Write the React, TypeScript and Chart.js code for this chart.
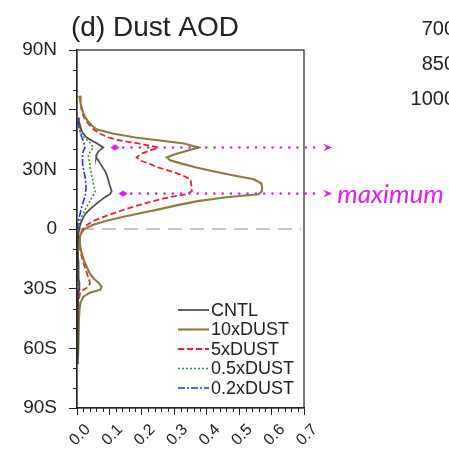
import { useEffect, useRef } from "react";
import { Chart, registerables } from "chart.js";

Chart.register(...registerables);

// Zonal-mean dust AOD profiles by latitude
const latitudes = [
  67, 64, 61, 58, 56, 54, 52, 50, 48, 46, 44.5, 43, 41, 39, 37.5, 36, 34.5, 33, 31, 29,
  27, 25, 23, 21, 19, 17.5, 16, 14, 12, 10, 8, 6, 4, 2, 0, -2, -4, -7, -10, -13,
  -16, -19, -22, -25, -27, -29, -30.5, -32, -34, -37, -40, -45, -50, -55, -60, -64, -68,
];

const cntl = [
  null, null, null, null, 0.004, 0.006, 0.010, 0.013, 0.019, 0.030, 0.045, 0.062, 0.081, 0.066, 0.061, 0.059, 0.066, 0.071, 0.079, 0.087,
  0.092, 0.096, 0.099, 0.103, 0.107, 0.102, 0.086, 0.070, 0.055, 0.040, 0.028, 0.020, 0.014, 0.010, 0.007, 0.005, 0.004, 0.003, 0.003, 0.003,
  0.004, 0.004, 0.005, 0.006, 0.007, 0.008, 0.007, 0.005, 0.004, 0.003, 0.003, 0.003, 0.003, 0.003, 0.003, 0.003, 0.003,
];

const dust10x = [
  0.007, 0.010, 0.014, 0.020, 0.026, 0.034, 0.046, 0.062, 0.110, 0.180, 0.256, 0.330, 0.374, 0.332, 0.300, 0.277, 0.287, 0.320, 0.365, 0.420,
  0.480, 0.545, 0.568, 0.571, 0.570, 0.560, 0.460, 0.372, 0.310, 0.256, 0.198, 0.140, 0.088, 0.048, 0.023, 0.014, 0.008, 0.009, 0.011, 0.016,
  0.022, 0.030, 0.038, 0.052, 0.066, 0.076, 0.072, 0.040, 0.020, 0.011, 0.008, 0.006, 0.005, 0.004, 0.004, 0.003, null,
];

const dust5x = [
  0.011, 0.011, 0.013, 0.017, 0.022, 0.030, 0.040, 0.052, 0.070, 0.098, 0.133, 0.190, 0.251, 0.217, 0.195, 0.184, 0.194, 0.220, 0.250, 0.290,
  0.325, 0.350, 0.352, 0.353, 0.354, 0.338, 0.285, 0.235, 0.190, 0.150, 0.115, 0.080, 0.050, 0.030, 0.018, 0.012, 0.009, 0.009, 0.010, 0.013,
  0.018, 0.024, 0.030, 0.036, 0.040, 0.036, 0.020, 0.010, 0.007, 0.005, 0.004, null, null, null, null, null, null,
];

const dust05x = [
  null, null, null, null, null, null, 0.005, 0.008, 0.013, 0.022, 0.033, 0.042, 0.050, 0.041, 0.036, 0.035, 0.037, 0.039, 0.040, 0.043,
  0.045, 0.048, 0.050, 0.053, 0.056, 0.052, 0.046, 0.040, 0.033, 0.026, 0.020, 0.014, 0.010, 0.006, 0.004, 0.003, 0.002, 0.002, 0.002, 0.002,
  0.002, 0.003, 0.003, 0.004, 0.005, 0.006, 0.005, 0.003, 0.002, 0.002, 0.002, null, null, null, null, null, null,
];

const dust02x = [
  null, null, null, null, null, 0.003, 0.005, 0.008, 0.011, 0.015, 0.019, 0.022, 0.025, 0.019, 0.017, 0.017, 0.017, 0.017, 0.019, 0.021,
  0.024, 0.026, 0.027, 0.028, 0.027, 0.026, 0.024, 0.020, 0.016, 0.013, 0.010, 0.007, 0.005, 0.003, 0.002, 0.002, 0.001, 0.001, 0.001, 0.001,
  0.002, 0.002, 0.002, 0.003, 0.004, 0.005, 0.004, 0.002, 0.001, 0.001, 0.001, null, null, null, null, null, null,
];

const seriesNames = ["CNTL", "10xDUST", "5xDUST", "0.5xDUST", "0.2xDUST"];
const seriesValues = [cntl, dust10x, dust5x, dust05x, dust02x];
const seriesColors = ["#4a4a4a", "#8c7a3e", "#ec2226", "#2f9c45", "#2432e0"];
const seriesDashes: number[][] = [[], [], [6, 3], [2, 2], [7, 2, 2, 2]];
const seriesWidths = [1.7, 2.1, 1.8, 1.6, 1.6];

const yTickLabels = ["90S", "60S", "30S", "0", "30N", "60N", "90N"];
const xTickLabels = ["0.0", "0.1", "0.2", "0.3", "0.4", "0.5", "0.6", "0.7"];
const titleText = "(d) Dust AOD";
const sideLabels = ["700", "850", "1000"];

// Latitudes of the two AOD maxima, the AOD where each marker starts, and where the arrows end
const maxLatitudes = [41, 17.8];
const maxMarkerAod = [0.117, 0.142];
const arrowEndAod = 0.787;
const maxLabel = "maximum";

const FONT = '"Liberation Sans", Arial, Helvetica, sans-serif';
const MAGENTA = "#e21ef0";

const panelDecor = {
  id: "panelDecor",
  beforeDatasetsDraw(chart: any) {
    const { ctx, chartArea: a, scales } = chart;
    const y0 = scales.y.getPixelForValue(0);
    ctx.save();
    ctx.strokeStyle = "#b4b4b4";
    ctx.lineWidth = 1.5;
    ctx.setLineDash([14, 8]);
    ctx.beginPath();
    ctx.moveTo(a.left + 3, y0);
    ctx.lineTo(a.right - 3, y0);
    ctx.stroke();
    ctx.restore();
  },
  afterDraw(chart: any) {
    const { ctx, chartArea: a, scales } = chart;
    const xs = scales.x;
    const ys = scales.y;
    ctx.save();

    // frame
    ctx.strokeStyle = "#222";
    ctx.lineWidth = 1.2;
    ctx.strokeRect(a.left, a.top, a.right - a.left, a.bottom - a.top);

    // minor ticks
    ctx.lineWidth = 1;
    ctx.beginPath();
    for (let lat = -80; lat <= 80; lat += 10) {
      if (lat % 30 === 0) continue;
      const py = Math.round(ys.getPixelForValue(lat)) + 0.5;
      ctx.moveTo(a.left - 4, py);
      ctx.lineTo(a.left, py);
    }
    for (let i = 1; i < 35; i++) {
      if (i % 5 === 0) continue;
      const px = Math.round(xs.getPixelForValue(i * 0.02)) + 0.5;
      ctx.moveTo(px, a.bottom);
      ctx.lineTo(px, a.bottom + 4);
    }
    ctx.stroke();

    // rotated x tick labels
    ctx.fillStyle = "#222";
    ctx.font = `16px ${FONT}`;
    ctx.textAlign = "center";
    ctx.textBaseline = "middle";
    xs.ticks.forEach((t: any, i: number) => {
      const px = xs.getPixelForValue(t.value);
      ctx.save();
      ctx.translate(px + 3, a.bottom + 27);
      ctx.rotate(-Math.PI / 4);
      ctx.fillText(xTickLabels[i] ?? String(t.value), 0, 0);
      ctx.restore();
    });

    // title
    ctx.textAlign = "left";
    ctx.textBaseline = "alphabetic";
    ctx.font = `28px ${FONT}`;
    ctx.fillText(titleText, a.left - 6, a.top - 14);

    // pressure labels of the neighbouring panel
    ctx.textAlign = "right";
    ctx.textBaseline = "middle";
    ctx.font = `20px ${FONT}`;
    sideLabels.forEach((s, i) => {
      ctx.fillText(s, 455, a.top - 21 + i * 35);
    });

    // legend
    ctx.textAlign = "left";
    ctx.font = `18px ${FONT}`;
    chart.data.datasets.forEach((ds: any, i: number) => {
      const ly = a.bottom - 98 + i * 19.5;
      ctx.save();
      ctx.strokeStyle = ds.borderColor;
      ctx.lineWidth = ds.borderWidth;
      ctx.setLineDash(ds.borderDash || []);
      ctx.beginPath();
      ctx.moveTo(a.left + 101, ly);
      ctx.lineTo(a.left + 132, ly);
      ctx.stroke();
      ctx.restore();
      ctx.fillStyle = "#222";
      ctx.fillText(ds.label, a.left + 134, ly + 1);
    });

    // maxima markers
    ctx.fillStyle = MAGENTA;
    maxLatitudes.forEach((lat, i) => {
      const py = ys.getPixelForValue(lat);
      const x0 = xs.getPixelForValue(maxMarkerAod[i]);
      const x1 = xs.getPixelForValue(arrowEndAod);
      ctx.beginPath();
      ctx.moveTo(x0 - 4.5, py);
      ctx.lineTo(x0, py - 3.2);
      ctx.lineTo(x0 + 4.5, py);
      ctx.lineTo(x0, py + 3.2);
      ctx.closePath();
      ctx.fill();
      for (let x = x0 + 8.3; x < x1 - 10; x += 8.3) {
        ctx.beginPath();
        ctx.arc(x, py, 1.3, 0, Math.PI * 2);
        ctx.fill();
      }
      ctx.beginPath();
      ctx.moveTo(x1, py);
      ctx.lineTo(x1 - 9, py - 3.8);
      ctx.lineTo(x1 - 6, py);
      ctx.lineTo(x1 - 9, py + 3.8);
      ctx.closePath();
      ctx.fill();
      if (i === maxLatitudes.length - 1) {
        ctx.font = `italic 26px Lato, "Open Sans", sans-serif`;
        ctx.textAlign = "left";
        ctx.textBaseline = "alphabetic";
        ctx.fillText(maxLabel, x1 + 5, py + 9);
      }
    });

    ctx.restore();
  },
};

export default function App() {
  const canvasRef = useRef<HTMLCanvasElement>(null);

  useEffect(() => {
    const datasets = seriesNames.map((name, s) => ({
      label: name,
      data: latitudes
        .map((lat, i) => ({ x: seriesValues[s][i], y: lat }))
        .filter((p) => p.x !== null),
      borderColor: seriesColors[s],
      backgroundColor: seriesColors[s],
      borderWidth: seriesWidths[s],
      borderDash: seriesDashes[s],
      showLine: true,
      pointRadius: 0,
      tension: 0,
      fill: false,
    }));

    const chart = new Chart(canvasRef.current as HTMLCanvasElement, {
      type: "scatter",
      data: { datasets },
      options: {
        responsive: false,
        animation: false,
        events: [],
        layout: { padding: { left: 0, top: 50, right: 145, bottom: 0 } },
        plugins: {
          legend: { display: false },
          title: { display: false },
          tooltip: { enabled: false },
        },
        scales: {
          x: {
            type: "linear",
            min: 0,
            max: 0.7,
            ticks: { stepSize: 0.1, display: false },
            grid: { drawOnChartArea: false, drawTicks: true, tickLength: 7, color: "#222" },
            border: { display: true, color: "#222", width: 1.2 },
            afterFit: (s: any) => {
              s.height = 46;
            },
          },
          y: {
            type: "linear",
            min: -90,
            max: 90,
            ticks: {
              stepSize: 30,
              padding: 12,
              color: "#222",
              font: { family: FONT, size: 19 },
              callback: (v: any) => yTickLabels[Math.round((Number(v) + 90) / 30)],
            },
            grid: { drawOnChartArea: false, drawTicks: true, tickLength: 8, color: "#222" },
            border: { display: true, color: "#222", width: 1.2 },
            afterFit: (s: any) => {
              s.width = 77;
            },
          },
        },
      },
      plugins: [panelDecor],
    });

    return () => chart.destroy();
  }, []);

  return (
    <div style={{ position: "absolute", left: 0, top: 0, width: 449, height: 454, background: "#fff" }}>
      <canvas ref={canvasRef} width={449} height={454} style={{ width: 449, height: 454 }} />
    </div>
  );
}
